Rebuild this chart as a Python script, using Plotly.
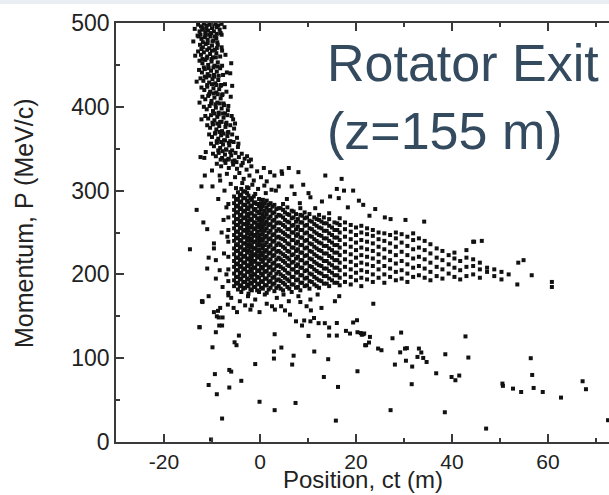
import plotly.graph_objects as go

# ---------------- data ----------------
tail_x = [-12.9,-12.3,-11.7,-11.1,-10.5,-9.9,-9.3,-8.7,-7.4,-13.6,
          -12.6,-12.0,-11.4,-10.8,-10.2,-9.6,-9.0,-8.4,
          -12.8,-12.2,-11.5,-10.9,-10.3,-9.7,-9.1,-13.9,-8.0,
          -12.5,-11.9,-11.3,-10.6,-10.0,-9.4,-8.8,-12.9,
          -12.3,-11.7,-11.0,-10.4,-9.8,-9.1,-13.5,-7.9,
          -12.6,-12.0,-11.4,-10.8,-10.1,-9.5,-8.8,-8.3,-6.0,
          -12.7,-12.1,-11.5,-10.9,-10.2,-9.6,-9.0,-6.2,
          -12.4,-11.8,-11.2,-10.6,-9.9,-9.3,-8.7,-8.1,-13.2,
          -12.2,-11.6,-11.0,-10.4,-9.7,-9.1,-8.5,-7.8,-5.8,
          -12.0,-11.4,-10.8,-10.1,-9.5,-8.9,-8.2,-7.6,-12.6,
          -11.7,-11.1,-10.5,-9.8,-9.2,-8.6,-8.0,-7.3,-6.7,
          -11.4,-10.8,-10.2,-9.5,-8.9,-8.3,-7.6,-7.0,-5.6,-12.2,
          -11.0,-10.4,-9.8,-9.1,-8.5,-7.9,-7.2,-6.6,-5.4,
          -10.6,-10.0,-9.4,-8.7,-8.1,-7.5,-6.8,-6.2,-4.8,
          -10.2,-9.6,-9.0,-8.3,-7.7,-7.1,-6.4,-5.8,-4.6,-11.3,
          -9.8,-9.2,-8.6,-7.9,-7.3,-6.7,-6.0,-5.3,-4.4,-3.2,-2.3,
          -12.4,-11.6]
tail_y = [498,496,499,497,498,496,499,497,495,493,
          490,492,489,491,488,490,487,492,
          484,481,483,480,484,479,482,478,486,
          474,471,475,470,473,468,474,466,
          462,465,460,463,459,464,461,467,
          455,452,456,450,454,449,453,446,452,
          444,441,445,439,443,438,442,440,
          434,431,435,429,433,428,432,426,430,
          423,420,424,418,422,417,421,415,425,
          412,409,413,407,411,405,410,404,405,
          400,397,401,395,399,393,398,392,396,
          389,386,390,384,388,382,387,381,385,385,
          378,375,379,373,377,371,376,370,374,
          367,364,368,362,366,360,365,359,363,
          356,353,357,351,355,349,354,348,352,346,
          344,341,345,339,343,337,342,336,340,338,335,
          340,339]

tail2_pts = [(-12.0,494),(-11.2,493),(-10.0,494),(-9.0,495),(-8.0,499),
             (-12.4,486),(-11.4,485),(-10.6,486),(-9.4,484),(-8.2,488),(-13.0,485),
             (-11.9,477),(-10.9,476),(-9.9,478),(-8.9,477),(-12.2,469),(-11.0,468),
             (-10.0,467),(-9.0,470),(-8.0,471),(-12.0,457),(-11.1,458),(-10.1,457),
             (-9.2,459),(-8.3,460),(-7.2,462),(-11.7,447),(-10.7,446),(-9.7,447),
             (-8.8,448),(-7.9,449),(-11.5,436),(-10.5,437),(-9.5,436),(-8.6,437),
             (-7.7,438),(-6.9,441),(-11.0,426),(-10.0,427),(-9.1,426),(-8.2,425),
             (-7.3,427),(-10.6,415),(-9.7,416),(-8.8,415),(-7.9,414),(-7.0,418),
             (-6.1,412),(-10.2,404),(-9.3,403),(-8.4,404),(-7.5,402),(-6.6,401),
             (-9.5,392),(-8.6,391),(-7.7,392),(-6.8,390),(-5.9,389),(-9.9,381),
             (-8.9,380),(-8.0,382),(-7.1,379),(-6.2,378),(-5.2,380),(-9.3,369),
             (-8.4,370),(-7.6,368),(-6.7,369),(-5.8,367),(-9.0,359),(-8.1,358),
             (-7.3,360),(-6.5,357),(-5.5,358),(-4.5,356),(-8.7,348),(-7.8,347),
             (-7.0,349),(-6.2,346),(-5.1,345),(-3.8,344),(-8.2,337),(-7.4,336),
             (-6.5,338),(-5.7,335),(-4.9,334),(-3.6,333),(-2.7,341),(-1.9,337)]

bridge_x = [-9.0,-8.1,-7.2,-6.5,-5.6,-4.8,-3.9,-2.8,-1.8,-0.6,0.8,2.1,-10.0,
            -8.4,-6.9,-5.2,-4.3,-3.4,-2.2,-1.3,0.2,1.4,3.0,4.6,-11.5,-12.2,-9.9,-8.3,
            -6.1,-5.0,-3.7,-2.7,-1.6,-0.4,0.9,2.4,3.9,6.0,9.0,10.1,16.0,
            4.5,8.0,13.6,17.0,19.4,12.9,11.5,16.4,14.4,7.2,5.6,8.3,21.5,24.0,
            18.3,22.8,26.0,14.6,17.5,20.6,10.5,27.2,30.3,34.2,3.3,6.6,1.2]
bridge_y = [332,329,333,327,331,326,330,325,329,323,327,322,324,
            318,320,316,321,314,318,312,316,311,318,320,318,305,305,312,
            308,303,309,304,307,302,306,301,305,327,307,297,302,
            323,322,318,314,300,287,279,291,273,296,290,285,283,278,
            280,270,268,293,300,288,292,266,265,263,300,305,297]

core_cols = [-6.6,-5.4,-4.6,-3.9,-3.1,-2.4,-1.7,-1.0,-0.2,0.6,1.4,2.2,3.0,3.9,4.8,
             5.7,6.6,7.5,8.4,9.3,10.3,11.3,12.3,13.3,14.4,15.5,16.6,17.7,18.9,20.0,
             21.1,22.3,23.5,24.7,25.9,27.1,28.3,29.5,30.7,31.9,33.1,34.3,35.5,36.8,
             38.0,39.3,40.5,41.7,43.0,44.4,45.8,47.3,48.8,50.3,51.8]
core_vals = [
    [178,192,206,221,239,253,268,284],
    [186,193,201,209,216,224,231,240,247,255,262,270,277,285,293],
    [182,190,197,205,213,220,228,236,243,251,259,266,274,282,290,298],
    [179,187,195,202,210,218,225,233,241,248,256,264,271,279,287,295,302],
    [184,191,199,207,214,222,230,237,245,253,260,268,276,283,291,299],
    [177,186,194,203,211,219,228,236,244,253,261,269,278,286,294,303],
    [181,189,196,204,212,219,227,235,243,250,258,266,273,281,289],
    [185,193,200,208,216,224,231,239,247,255,262,270,278,286,296],
    [179,188,196,205,213,222,230,239,247,256,264,273,281,290],
    [183,191,199,207,215,223,231,240,248,256,264,272,281,289],
    [178,187,195,204,212,221,229,238,246,255,263,272,280,288],
    [184,192,201,209,218,226,235,243,252,260,269,277,285],
    [180,189,197,206,214,223,231,240,248,257,265,274,283],
    [186,194,203,211,220,228,237,245,254,262,271,279],
    [181,190,198,207,216,224,233,242,250,259,268,277,284],
    [185,194,202,211,220,228,237,246,254,263,272,280],
    [179,188,197,206,214,223,232,241,250,258,267,276],
    [184,193,202,210,219,228,237,246,254,263,272],
    [181,190,199,208,217,226,235,244,253,262,271,279],
    [186,195,204,213,222,231,240,249,258,267,274],
    [183,192,201,210,219,228,237,246,255,264,272],
    [188,197,206,215,224,233,242,251,260,268],
    [184,193,202,211,220,229,238,247,256,265,271],
    [189,198,207,216,225,234,243,252,261,268],
    [186,195,204,213,222,231,240,249,258,266],
    [190,199,208,217,226,235,244,253,262],
    [187,196,205,214,223,232,241,250,259,267],
    [191,200,209,218,227,236,245,254,262],
    [188,197,206,215,224,233,242,251,259],
    [193,202,211,220,229,238,247,256],
    [186,196,205,214,223,232,241,250,258],
    [194,203,212,221,230,239,248,255],
    [191,200,210,219,228,237,246,253],
    [196,206,215,224,233,242,250],
    [190,200,210,220,230,240,249],
    [197,207,217,227,237,247],
    [193,203,213,223,233,243,250],
    [195,205,216,227,238,248],
    [191,201,212,223,234,245],
    [197,208,219,230,241,249],
    [199,210,221,232,243],
    [196,207,218,229,240],
    [193,203,214,225,236],
    [198,209,220,231],
    [195,206,217,228],
    [201,212,223],
    [197,208,219,226],
    [194,205,216],
    [198,209,220,229],
    [200,210,218,239],
    [196,206,214],
    [203,208],
    [198,206],
    [194,203],
    [200],
]

core2_cols = [-5.0,-4.2,-3.5,-2.7,-2.0,-1.3,-0.6,0.2,1.0,1.8,2.6,3.4,4.3,5.2,6.1,
              7.0,7.9,8.8,9.8,10.8,11.8,12.8,13.9,15.0,16.1]
core2_vals = [
    [189,197,205,212,220,228,235,244,251,259,266,274,281,289],
    [186,194,201,209,217,224,232,240,247,255,262,270,278,286,294],
    [183,191,198,206,214,221,229,237,244,252,260,267,275,283,291,299],
    [188,195,203,210,218,226,233,241,249,257,264,272,280,288,297],
    [182,190,199,207,215,223,232,240,248,256,265,273,282,291],
    [185,192,200,208,215,223,231,239,246,254,262,270,277,285,293],
    [181,189,197,204,212,220,227,235,243,251,259,267,275,284],
    [184,192,201,209,218,226,235,243,252,260,268,277,285],
    [187,195,203,211,219,227,235,244,252,260,268,276,285],
    [182,191,199,208,216,225,233,242,250,259,267,276,283],
    [188,196,205,213,222,230,239,247,256,264,273,281],
    [184,193,201,210,218,227,235,244,252,261,269,278],
    [183,192,200,209,218,226,235,243,252,261,270,279],
    [188,196,205,214,222,231,240,248,257,265,274],
    [183,192,201,210,218,227,236,245,254,262,271],
    [188,197,206,215,224,232,241,250,259,268,275],
    [185,194,203,212,221,230,239,248,257,266],
    [190,199,208,217,226,235,244,253,262,270],
    [187,196,205,214,223,232,241,250,259,268],
    [191,200,209,218,227,236,245,254,263],
    [186,195,204,213,222,231,240,249,258,266],
    [192,201,210,219,228,237,246,255,263],
    [189,198,207,216,225,234,243,252,261],
    [193,202,211,220,229,238,247,256],
    [190,199,208,217,226,235,244,253,261],
]

halo_x = [-13.2,-11.8,-11.0,-14.6,-10.7,-11.0,-9.6,-9.6,-9.2,-9.2,-12.0,-12.6,-8.5,
          -8.0,-7.6,-7.0,-8.4,-7.5,-7.8,-7.0,-6.8,-6.6,-8.7,-7.4,
          -6.0,-4.2,-2.5,-1.0,1.0,3.5,6.0,8.0,10.5,12.0,-5.5,-2.0,2.5,5.2,-8.3,-9.0,
          53.6,53.8,54.9,56.6,60.8,60.8,44.6,46.2]
halo_y = [277,262,254,230,220,207,237,231,217,195,168,137,139,
          250,265,280,205,225,185,200,245,175,290,300,
          172,168,174,170,176,172,168,174,170,176,160,158,162,157,160,150,
          188,214,217,199,191,185,239,240]

low_x = [-12.1,-12.0,-10.7,-12.6,-9.6,-8.75,-8.6,-7.8,-7.9,-9.2,-9.9,-4.4,-5.3,-4.9,
         -9.4,-10.7,-9.0,-6.4,-6.0,-3.9,-6.4,-7.9,-10.2,-1.0,-0.1,-0.1,3.05,2.9,2.9,
         3.05,4.45,6.25,7.5,7.0,6.7,7.4,8.75,9.2,10.5,10.1,11.3,11.25,12.2,13.5,14.4,
         14.4,14.2,13.3,16.0,16.0,16.25,15.8,19.4,20.2,17.9,18.75,20.3,21.0,21.5,20.3,
         21.9,23.6,21.2,21.7,22.1,22.7,22.9,24.6,25.3,27.6,29.4,28.1,29.2,30.2,30.6,
         30.4,31.7,31.6,27.2,33.1,33.6,34.0,34.7,32.8,36.7,38.6,38.5,39.9,40.7,41.5,
         42.8,43.4,47.1,50.5,50.6,52.7,54.4,56.4,56.7,57.0,58.9,62.7,67.2,67.9,72.5,
         -6.7,-4.8,-3.1,-1.7,1.4,3.1,4.4,4.9,8.4,9.7,10.6,12.8,15.6,16.5]
low_y = [168,167,174,137,155,156.5,148.6,148.6,139,131,113,127,119,115.5,
         81,68,57,86,84,73,65,28,3,93,155,48,128.6,108,99.6,
         38,112.7,152,144,103,92.4,46.6,139,145,144,126.6,108,148,141.8,141.8,136.6,
         127,98.8,77.6,142,127,65.7,25.5,142.6,145.3,132.6,129.4,131,130,128.6,84.4,
         115.5,165,128,129.5,115.5,118.7,125.4,111.5,109.5,123.8,130.6,92.4,107,111.5,112,
         97,90,69,38,111.5,106.8,100.3,95.5,101.5,82,104.7,35.5,77.6,73.7,79.3,
         126,100.8,16,69.7,67,63.7,59.7,100,80,64.5,59.7,53,72.5,63,26,
         164,155,163,163,165,158,162,176,167,162,157,160,168,174]

x_ticks = [-20, 0, 20, 40, 60]
x_tick_text = ["-20", "0", "20", "40", "60"]
y_ticks = [0, 100, 200, 300, 400, 500]

# ---------------- assemble ----------------
core_x, core_y = [], []
for cols, vals_list in ((core_cols, core_vals), (core2_cols, core2_vals)):
    for cx, vals in zip(cols, vals_list):
        for v in vals:
            core_x.append(cx)
            core_y.append(v)

tail2_x = [p[0] for p in tail2_pts]
tail2_y = [p[1] for p in tail2_pts]

all_x = tail_x + tail2_x + bridge_x + core_x + halo_x + low_x
all_y = tail_y + tail2_y + bridge_y + core_y + halo_y + low_y

fig = go.Figure()
fig.add_trace(go.Scatter(
    x=all_x, y=all_y, mode="markers",
    marker=dict(symbol="square", size=4, color="#111111", line=dict(width=0)),
    hoverinfo="skip", showlegend=False, cliponaxis=True))

font_family = "Liberation Sans, Arial, sans-serif"
line_common = dict(
    showline=True, linecolor="#3a3a3a", linewidth=1.5,
    ticks="inside", tickcolor="#3a3a3a", tickwidth=1.5, ticklen=8,
    showgrid=False, zeroline=False,
)

fig.update_layout(
    width=609, height=495,
    margin=dict(l=116, r=0, t=23, b=53),
    paper_bgcolor="white", plot_bgcolor="white",
    xaxis=dict(range=[-30, 72.7], tickvals=x_ticks, ticktext=x_tick_text,
               mirror="ticks", ticklabelstandoff=0,
               tickfont=dict(family=font_family, size=21, color="#222222"),
               minor=dict(dtick=10, tick0=0, ticks="inside", ticklen=4,
                          tickcolor="#3a3a3a", tickwidth=1.5),
               **line_common),
    yaxis=dict(range=[0, 500], tickvals=y_ticks, mirror=False,
               tickfont=dict(family=font_family, size=23, color="#222222"),
               minor=dict(dtick=50, tick0=0, ticks="inside", ticklen=4,
                          tickcolor="#3a3a3a", tickwidth=1.5),
               **line_common),
    shapes=[dict(type="rect", xref="paper", yref="paper",
                 x0=-0.3, x1=1.0, y0=1 + 19/419, y1=1 + 23/419,
                 fillcolor="#e9eef4", line=dict(width=0), layer="above")],
    annotations=[
        dict(text="Position, ct (m)", xref="paper", yref="paper",
             x=0.5, y=-(495-442)/419, xanchor="center", yanchor="bottom", showarrow=False,
             font=dict(family=font_family, size=24, color="#222222")),
        dict(text="Momentum, P (MeV/c)", xref="paper", yref="paper",
             x=-0.1866, y=0.5227, xanchor="center", yanchor="middle", showarrow=False,
             textangle=-90,
             font=dict(family=font_family, size=25, color="#222222")),
        dict(text="Rotator Exit<br>(z=155 m)", xref="paper", yref="paper",
             x=(325-116)/493, y=(442-32)/419, xanchor="left", yanchor="top",
             align="left", showarrow=False,
             font=dict(family=font_family, size=52, color="#344a5e")),
    ],
)

fig.write_html("out.html")
